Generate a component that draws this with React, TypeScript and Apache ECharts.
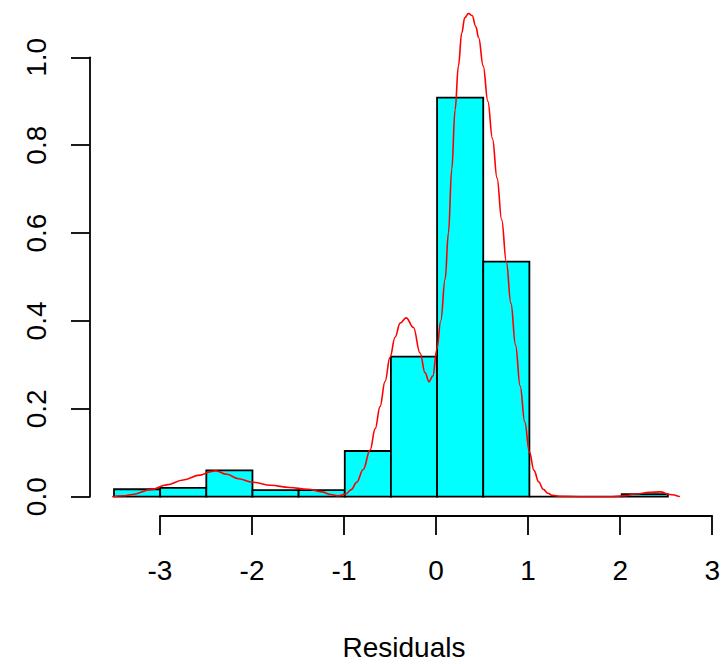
import React, { useEffect, useRef } from "react";
import * as echarts from "echarts";

// Histogram bin edges and densities
const breaks = [-3.5, -3, -2.5, -2, -1.5, -1, -0.5, 0, 0.5, 1, 1.5, 2, 2.5];
const densities = [0.017, 0.02, 0.06, 0.015, 0.015, 0.104, 0.319, 0.908, 0.535, 0, 0, 0.006];

// Kernel density curve
const densX = [
  -3.52, -3.4, -3.3, -3.1, -2.93, -2.75, -2.57, -2.45, -2.4, -2.28, -2.15, -2.0, -1.8, -1.6, -1.4, -1.25,
  -1.15, -1.07, -0.99, -0.93, -0.87, -0.8, -0.726, -0.67, -0.618, -0.564, -0.51, -0.455, -0.4, -0.335,
  -0.256, -0.184, -0.13, -0.087, -0.045, -0.003, 0.04, 0.087, 0.123, 0.159, 0.195, 0.231, 0.267, 0.3,
  0.34, 0.38, 0.42, 0.45, 0.5, 0.55, 0.6, 0.65, 0.7, 0.75, 0.8, 0.85, 0.9, 0.95, 1.0, 1.05, 1.1, 1.15,
  1.2, 1.25, 1.32, 1.6, 1.9, 2.02, 2.15, 2.3, 2.42, 2.52, 2.63,
];
const densY = [
  0, 0.002, 0.005, 0.016, 0.027, 0.038, 0.049, 0.057, 0.059, 0.051, 0.041, 0.033, 0.026, 0.021, 0.017,
  0.011, 0.005, 0.002, 0.006, 0.016, 0.033, 0.062, 0.106, 0.155, 0.205, 0.262, 0.317, 0.363, 0.395, 0.407,
  0.385, 0.327, 0.282, 0.262, 0.275, 0.335, 0.4, 0.495, 0.6, 0.745, 0.88, 0.98, 1.055, 1.09,
  1.1, 1.095, 1.07, 1.045, 0.98, 0.9, 0.815, 0.725, 0.63, 0.535, 0.44, 0.345, 0.252, 0.17, 0.102, 0.06, 0.034, 0.017,
  0.008, 0.003, 0.001, 0, 0, 0.002, 0.006, 0.01, 0.011, 0.005, 0,
];

const xTicks = [-3, -2, -1, 0, 1, 2, 3];
const yTickStep = 0.2;
const xLabel = "Residuals";

const FONT = "'Liberation Sans', Arial, sans-serif";

export default function App() {
  const ref = useRef<HTMLDivElement>(null);
  useEffect(() => {
    if (!ref.current) return;
    const chart = echarts.init(ref.current, undefined, { renderer: "svg" });
    const binData = densities.map((d, i) => [breaks[i], breaks[i + 1], d]);
    const lineData = densX.map((x, i) => [x, densY[i]]);
    const axisLine = { show: true, lineStyle: { color: "#000", width: 1.8 } };
    const axisTick = { show: true, length: 19, lineStyle: { color: "#000", width: 1.8 } };
    chart.setOption({
      animation: false,
      backgroundColor: "#fff",
      grid: [
        { left: 90, width: 600, top: 13.36, height: 483.34 },
        { left: 160, width: 554, top: 416, height: 100 },
        { left: 90, width: 100, top: 57.3, height: 439.4 },
      ],
      xAxis: [
        { gridIndex: 0, type: "value", min: -3.76, max: 2.74, show: false },
        {
          gridIndex: 1,
          type: "value",
          min: xTicks[0],
          max: xTicks[xTicks.length - 1],
          interval: 1,
          position: "bottom",
          axisLine,
          axisTick,
          axisLabel: {
            margin: 40,
            fontSize: 28,
            color: "#000",
            fontFamily: FONT,
            formatter: (v: number) => String(v),
          },
          splitLine: { show: false },
        },
        { gridIndex: 2, type: "value", show: false },
      ],
      yAxis: [
        { gridIndex: 0, type: "value", min: 0, max: 1.1, show: false },
        { gridIndex: 1, type: "value", show: false },
        {
          gridIndex: 2,
          type: "value",
          min: 0,
          max: 1,
          interval: yTickStep,
          position: "left",
          axisLine,
          axisTick,
          axisLabel: {
            margin: 40,
            fontSize: 28,
            rotate: 90,
            color: "#000",
            fontFamily: FONT,
            formatter: (v: number) => v.toFixed(1),
          },
          splitLine: { show: false },
        },
      ],
      series: [
        {
          type: "custom",
          xAxisIndex: 0,
          yAxisIndex: 0,
          data: binData,
          renderItem: (params: any, api: any) => {
            const p0 = api.coord([api.value(0), 0]);
            const p1 = api.coord([api.value(1), api.value(2)]);
            return {
              type: "rect",
              shape: { x: p0[0], y: p1[1], width: p1[0] - p0[0], height: p0[1] - p1[1] },
              style: { fill: "#00FFFF", stroke: "#000", lineWidth: 1.8 },
            };
          },
          z: 2,
        },
        {
          type: "line",
          xAxisIndex: 0,
          yAxisIndex: 0,
          data: lineData,
          showSymbol: false,
          smooth: 0.4,
          smoothMonotone: "x",
          lineStyle: { color: "#FF0000", width: 1.6 },
          z: 3,
        },
      ],
      graphic: [
        {
          type: "text",
          x: 404,
          y: 647,
          style: {
            text: xLabel,
            font: `28px ${FONT}`,
            fill: "#000",
            textAlign: "center",
            textVerticalAlign: "middle",
          },
        },
      ],
    });
    return () => chart.dispose();
  }, []);
  return (
    <div
      ref={ref}
      style={{ position: "fixed", left: 0, top: 0, width: 723, height: 664 }}
    />
  );
}
